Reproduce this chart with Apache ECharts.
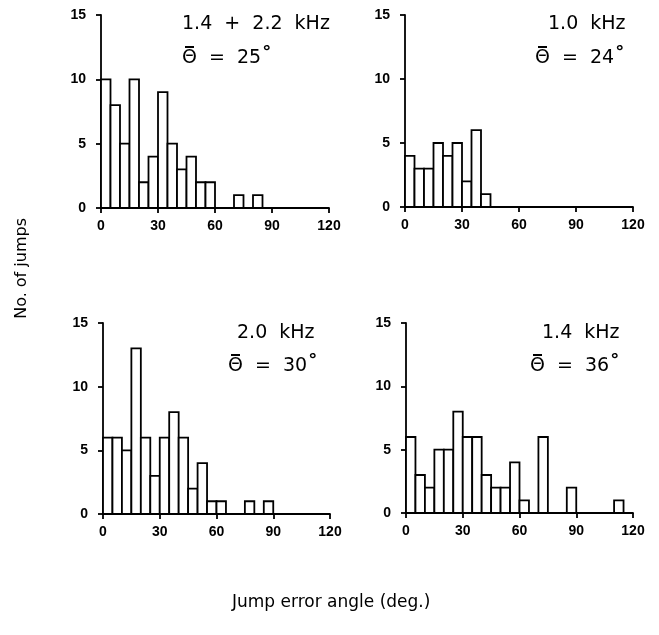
<!DOCTYPE html>
<html>
<head>
<meta charset="utf-8">
<script src="https://cdn.jsdelivr.net/npm/echarts@6/dist/echarts.min.js"></script>
<style>
html, body { margin: 0; padding: 0; background: #fff; }
#chart { width: 659px; height: 635px; }
</style>
</head>
<body>
<div id="chart"></div>
<script>
// histogram bins: 5 deg wide, starting at 0
var binWidth = 5;
var xTicks = [0, 30, 60, 90, 120];
var yTicks = [0, 5, 10, 15];

// counts per bin (0-5, 5-10, ...)
var counts14_22 = [10, 8, 5, 10, 2, 4, 9, 5, 3, 4, 2, 2, 0, 0, 1, 0, 1];
var counts10 = [4, 3, 3, 5, 4, 5, 2, 6, 1];
var counts20 = [6, 6, 5, 13, 6, 3, 6, 8, 6, 2, 4, 1, 1, 0, 0, 1, 0, 1];
var counts14 = [6, 3, 2, 5, 5, 8, 6, 6, 3, 2, 2, 4, 1, 0, 6, 0, 0, 2, 0, 0, 0, 0, 1];

var freqLabels = ['1.4  +  2.2  kHz', '1.0  kHz', '2.0  kHz', '1.4  kHz'];
var meanAngles = [25, 24, 30, 36];

var panels = [
	{ counts: counts14_22, grid: { left: 101, top: 15, width: 228, height: 193 }, txt: [182, 15, 182, 44] },
	{ counts: counts10, grid: { left: 405, top: 15, width: 228, height: 192 }, txt: [548, 15, 535, 44] },
	{ counts: counts20, grid: { left: 103, top: 323, width: 227, height: 191 }, txt: [237, 324, 228, 352] },
	{ counts: counts14, grid: { left: 406, top: 323, width: 227, height: 190 }, txt: [542, 324, 530, 352] }
];

var tickFont = 'Liberation Sans';
var textFont = 'DejaVu Sans';

function toBins(counts) {
	var out = [];
	for (var i = 0; i < counts.length; i++) {
		if (counts[i] > 0) out.push([i * binWidth, (i + 1) * binWidth, counts[i]]);
	}
	return out;
}

function renderBar(params, api) {
	var p0 = api.coord([api.value(0), 0]);
	var p1 = api.coord([api.value(1), api.value(2)]);
	return {
		type: 'rect',
		shape: { x: p0[0], y: p1[1], width: p1[0] - p0[0], height: p0[1] - p1[1] },
		style: { fill: '#fff', stroke: '#000', lineWidth: 1.8 }
	};
}

var grids = [], xAxes = [], yAxes = [], series = [], graphics = [];
panels.forEach(function (p, i) {
	grids.push(p.grid);
	xAxes.push({
		type: 'value', gridIndex: i, min: 0, max: 120, interval: 30,
		axisLine: { onZero: false, lineStyle: { color: '#000', width: 1.8 } },
		axisTick: { show: true, length: 5, lineStyle: { color: '#000', width: 1.8 } },
		axisLabel: { color: '#000', fontFamily: tickFont, fontWeight: 'bold', fontSize: 14, margin: 11 },
		splitLine: { show: false }
	});
	yAxes.push({
		type: 'value', gridIndex: i, min: 0, max: 15, interval: 5,
		axisLine: { show: true, lineStyle: { color: '#000', width: 1.8 } },
		axisTick: { show: true, length: 5, lineStyle: { color: '#000', width: 1.8 } },
		axisLabel: { color: '#000', fontFamily: tickFont, fontWeight: 'bold', fontSize: 14, margin: 15 },
		splitLine: { show: false }
	});
	series.push({
		type: 'custom', xAxisIndex: i, yAxisIndex: i,
		renderItem: renderBar,
		encode: { x: [0, 1], y: 2 },
		data: toBins(p.counts),
		silent: true
	});
	graphics.push({
		type: 'text', left: p.txt[0], top: p.txt[1],
		style: { text: freqLabels[i], font: '19px "' + textFont + '"', fill: '#000' }
	});
	graphics.push({
		type: 'text', left: p.txt[2], top: p.txt[3],
		style: {
			text: '{t|\u0398  =  ' + meanAngles[i] + '}{d|\u00b0}',
			rich: {
				t: { font: '19px "' + textFont + '"', fill: '#000' },
				d: { font: 'bold 18px "' + textFont + '"', fill: '#000', verticalAlign: 'top', padding: [0, 0, 10, 1] }
			}
		}
	});
	// bar over theta (mean)
	graphics.push({
		type: 'rect', shape: { x: p.txt[2] + 3, y: p.txt[3] + 2, width: 9, height: 2 },
		style: { fill: '#000' }
	});
});

graphics.push({
	type: 'text', left: 14, top: 218, rotation: Math.PI / 2,
	style: { text: 'No. of jumps', font: '16px "' + textFont + '"', fill: '#000' }
});
graphics.push({
	type: 'text', left: 232, top: 594,
	style: { text: 'Jump error angle (deg.)', font: '17px "' + textFont + '"', fill: '#000' }
});

var chart = echarts.init(document.getElementById('chart'));
chart.setOption({
	animation: false,
	backgroundColor: '#fff',
	grid: grids,
	xAxis: xAxes,
	yAxis: yAxes,
	series: series,
	graphic: graphics
});
</script>
</body>
</html>
